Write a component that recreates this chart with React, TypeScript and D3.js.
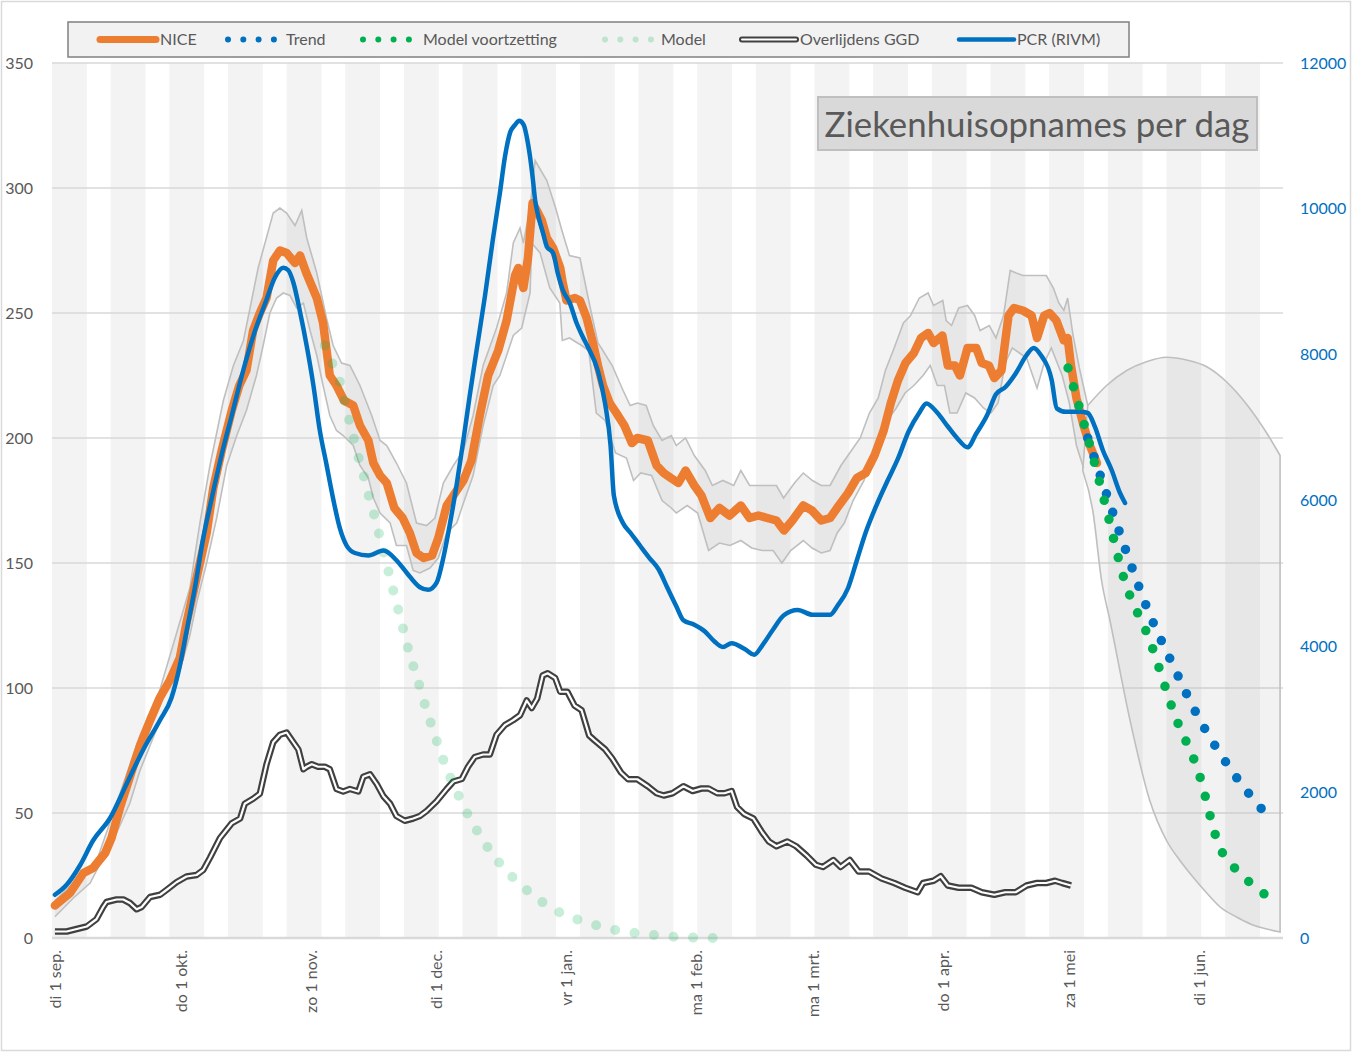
import * as d3 from "d3";

// day offsets are counted from 1 Sep 2020
const START = Date.UTC(2020, 8, 1);

const tickDates = ["2020-09-01", "2020-10-01", "2020-11-01", "2020-12-01", "2021-01-01", "2021-02-01", "2021-03-01", "2021-04-01", "2021-05-01", "2021-06-01"];
const tickLabels = ["di 1 sep.", "do 1 okt.", "zo 1 nov.", "di 1 dec.", "vr 1 jan.", "ma 1 feb.", "ma 1 mrt.", "do 1 apr.", "za 1 mei", "di 1 jun."];
const leftTicks = [0, 50, 100, 150, 200, 250, 300, 350];
const rightTicks = [0, 2000, 4000, 6000, 8000, 10000, 12000];

// NICE hospital admissions per day [day, value]
const nice = [
  [0, 13], [3.6, 18], [6.8, 26], [9.1, 28], [12, 34], [13.5, 40], [15.5, 52], [18, 65], [20.3, 77], [22.7, 87],
  [25, 96], [27.4, 103], [29.8, 112], [31.4, 126], [33.8, 144], [36.2, 162], [37.8, 180], [39.8, 195], [42.2, 211],
  [44, 221], [45.7, 227], [47.3, 243], [48.9, 250], [50.5, 256], [52.1, 271], [53.7, 275], [55.3, 274], [57.3, 270],
  [58.5, 273], [60, 266], [62.5, 256], [64, 246], [65.6, 225], [67.2, 221], [69, 215], [71.2, 213], [72.8, 205],
  [74.8, 199], [76, 190], [77.6, 185], [79.2, 182], [81, 172], [83, 168], [84.7, 162], [86.3, 154], [88, 152],
  [90, 153], [91.5, 160], [93.5, 173], [95.5, 178], [97.5, 183], [99.4, 191], [101.4, 209], [103.4, 225], [105.8, 235],
  [107.8, 247], [109.8, 265], [110.6, 268], [111.8, 260], [112.9, 272], [114, 294], [115, 291], [116.2, 287],
  [117.4, 280], [118.9, 276], [120.6, 268], [121.2, 262], [122.1, 255], [124.1, 256], [125.3, 255], [126.9, 248],
  [128.4, 238], [129.6, 229], [130.8, 221], [132.4, 214], [134, 210], [135.9, 205], [137.7, 198], [139, 200],
  [141.5, 199], [143.6, 189], [145.3, 186], [147, 184], [148.8, 182], [150.5, 187], [152.6, 181], [154.3, 177],
  [156.4, 168], [158.6, 172], [161, 169], [163.7, 173], [165.8, 168], [167.9, 169], [170, 168], [172.2, 167],
  [174, 163], [176, 167], [178.6, 173], [180.7, 171], [182.9, 167], [185, 168], [187.1, 173], [189.3, 178],
  [191.4, 184], [193.5, 186], [195.6, 193], [197.8, 203], [199.5, 214], [201.2, 223], [203, 230], [205, 234],
  [206.7, 240], [208.4, 242], [209.7, 238], [211.8, 241], [213.1, 229], [214.8, 229], [216, 225], [217.8, 236],
  [219.9, 236], [221.2, 230], [222.9, 229], [224.2, 224], [225.9, 227], [227.6, 249], [228.9, 252], [231, 251],
  [233.1, 249], [234.4, 240], [236.1, 249], [237.4, 250], [239, 247], [240.8, 239], [241.7, 240], [242.5, 229],
  [243.8, 216], [245.5, 205], [247, 197], [248.7, 190],
];

// NICE uncertainty band
const niceUpper = [
  [0, 15], [10, 31], [20.3, 81], [25, 99], [32.2, 140], [34.6, 166], [37, 189], [40.2, 215], [42.6, 229], [45, 239],
  [48.5, 268], [52.1, 290], [53.7, 292], [55.3, 290], [57.3, 285], [58.9, 291], [60.1, 280], [62.5, 266], [64.8, 248],
  [66.4, 237], [68.4, 230], [70.4, 229], [72.8, 221], [75.6, 209], [77.6, 199], [79.2, 197], [81.5, 190], [83.9, 182],
  [86.3, 166], [88.7, 165], [90.7, 168], [92.7, 182], [95.1, 189], [97.5, 195], [99.8, 209], [102.2, 229],
  [105.4, 244], [107.8, 258], [109.4, 278], [111, 284], [111.8, 278], [113.4, 292], [114.6, 311], [117.4, 303],
  [119.5, 292], [121, 283], [122.8, 273], [125.3, 272], [127.9, 251], [129.6, 238], [130.4, 236], [133, 229],
  [135.6, 219], [137.3, 213], [139, 214], [141.1, 213], [142.8, 205], [144.9, 199], [147.1, 201], [148.3, 197],
  [150.5, 200], [152.6, 193], [155.2, 187], [156.9, 181], [159.4, 183], [162, 181], [163.7, 187], [165.8, 181],
  [168, 181], [170.1, 181], [172.2, 181], [173.9, 176], [176.5, 182], [178.6, 186], [180.8, 183], [182.9, 181],
  [185, 181], [187.6, 189], [190.1, 195], [192.2, 200], [194.4, 210], [196.5, 216], [198.2, 227], [200.3, 236],
  [202.5, 246], [204.2, 249], [206.3, 256], [208.4, 258], [209.7, 253], [211.9, 255], [212.7, 247], [214, 245],
  [215.7, 252], [217.8, 253], [219.5, 249], [220.8, 243], [223, 245], [224.6, 240], [226.4, 249], [228, 267],
  [229.4, 266], [231, 265], [233.2, 265], [234.9, 265], [236.6, 265], [238.3, 260], [239.6, 254], [240.8, 251],
  [241.7, 256], [243, 241], [244.5, 228], [246.5, 213],
];
const niceLower = [
  [0, 8.5], [4.4, 16], [8.4, 22], [11.5, 32], [14.7, 42], [17.9, 54], [20.3, 67], [22.7, 77], [25.1, 87], [27.4, 95],
  [29.8, 107], [32.2, 121], [33.8, 134], [36.2, 150], [38.6, 168], [41, 189], [43.4, 201], [45.7, 211], [48.1, 225],
  [49.7, 237], [51.3, 250], [52.9, 256], [54.5, 258], [56.1, 257], [57.7, 252], [59.3, 254], [60.9, 243], [62.5, 233],
  [64, 221], [65.6, 209], [67.2, 203], [68.8, 201], [71.2, 197], [72.8, 189], [74.8, 184], [76, 176], [77.6, 170],
  [80, 166], [81.5, 157], [83.9, 157], [85.5, 147], [87.1, 146], [89.5, 148], [91.5, 152], [93.5, 162], [95.9, 166],
  [97.5, 174], [99.8, 185], [102.2, 205], [104.6, 221], [106.2, 225], [107.8, 233], [109.4, 241], [111.4, 244],
  [113.4, 258], [113.8, 278], [115.8, 274], [118.1, 260], [120.5, 254], [121.1, 239], [122.8, 240], [125.7, 237],
  [127.4, 235], [129.2, 210], [131.3, 207], [133.8, 194], [136.4, 192], [138.1, 183], [139.8, 186], [142.4, 185],
  [144.9, 175], [147.1, 172], [148.3, 170], [150.9, 173], [153.4, 170], [156, 155], [158.6, 158], [161.1, 157],
  [163.7, 159], [166.3, 156], [168.8, 155], [171.4, 155], [173.5, 150], [175.6, 155], [178.6, 159], [180.7, 156],
  [182.9, 154], [185, 155], [186.7, 162], [188.4, 166], [190.5, 175], [193.1, 183], [195.2, 192], [197.4, 199],
  [199.1, 208], [200.8, 212], [202.9, 218], [205, 221], [207.2, 225], [208.9, 229], [210.6, 221], [212.3, 221],
  [213.6, 210], [215.3, 210], [217.4, 218], [219.5, 216], [221.6, 212], [223.4, 210], [225.1, 214], [226.8, 230],
  [228.5, 236], [230.2, 234], [231.9, 232], [234.4, 220], [236.1, 230], [237.8, 236], [240.4, 225], [242.1, 214],
  [243.8, 197], [245.5, 188],
];

// projected band after May
const projUpper = [
  [246.5, 213], [251, 221], [255.8, 227], [260.5, 230.5], [265.3, 232.3], [270.1, 231.2], [274.9, 228.5],
  [279.6, 222.5], [284.4, 213.5], [289.2, 202], [292.4, 193],
];
const projLower = [
  [245.3, 187], [247.7, 171], [249.8, 143], [251.8, 127], [256.6, 87], [261.3, 55], [265.3, 39], [268.5, 31],
  [271.6, 24.4], [274.9, 18], [278.1, 12.4], [282, 8.4], [285.9, 5.2], [289.2, 3.6], [292.4, 2.4],
];

// trend and model lines
const trend = [[246.5, 200], [251.1, 177], [255.8, 154], [260.9, 131], [266.6, 110], [273, 88], [280.4, 68], [289.3, 49]];
const modelNext = [[241.8, 228], [245.8, 204.5], [250.6, 174], [255.1, 144], [261.3, 119], [267.3, 89], [273, 66], [277.6, 38], [283.5, 25], [290.9, 15]];
const model = [
  [64.4, 237], [66.4, 229], [68, 222.5], [69.2, 214], [70.4, 206], [71.6, 198], [72.8, 190], [74, 183], [75.2, 175],
  [76.4, 168], [77.6, 160], [78.8, 152], [80, 144], [81.2, 136], [82.3, 129], [83.5, 121], [84.7, 113], [86.1, 106],
  [87.5, 98], [88.9, 90], [90.3, 83], [91.9, 75], [93.5, 67.6], [95.5, 60], [97.5, 52.8], [99.7, 45.9], [102.2, 39],
  [104.9, 32.5], [107.9, 26.6], [111.4, 20.9], [115, 16], [119.2, 11.3], [123.6, 8.1], [128, 5.7], [132.8, 3.5],
  [137.5, 2.2], [142.2, 1.3], [146.9, 0.6], [151.7, 0.2], [156.4, 0], [161, 0],
];

// GGD deaths per day
const deaths = [
  [0, 2.6], [2.8, 2.6], [5.2, 3.6], [7.6, 4.6], [9.9, 7.5], [11.5, 12.4], [12.3, 14.4], [14.7, 15.4], [16.3, 15.4],
  [17.9, 14], [19.5, 11.5], [20.7, 12.4], [22.7, 16.4], [25.1, 17.3], [26.7, 19.3], [29, 22.3], [31.4, 24.6],
  [33.8, 25.2], [35.4, 27.2], [37, 32.1], [39.4, 40], [42.2, 45.9], [44.2, 47.8], [45.3, 53.7], [47.3, 55.7],
  [48.9, 57.7], [50.5, 69.5], [52.1, 78.3], [53.7, 81.3], [55.3, 82.2], [56.9, 78.3], [58.1, 75.4], [59.3, 67.5],
  [60.1, 68.5], [61.3, 69.5], [62.8, 68.5], [64.4, 68.5], [65.6, 67.5], [67.2, 59.6], [68.8, 58.6], [70.4, 59.6],
  [72.4, 58.6], [73.6, 64.5], [75.2, 65.5], [76.8, 61.6], [78.4, 56.7], [80, 53.7], [81.5, 48.8], [83.5, 46.9],
  [85.5, 47.8], [87.1, 48.8], [88.7, 50.8], [91.1, 54.7], [93.5, 59.6], [95.1, 62.6], [97.1, 63.6], [98.6, 68.5],
  [100.2, 72.4], [102.2, 73.4], [103.8, 73.4], [105.4, 81.3], [107.4, 85.2], [109.4, 87.2], [111, 89.1], [112.6, 95],
  [113.8, 92], [115.1, 95.8], [116.4, 105], [117.6, 105.9], [119.4, 104], [120.6, 98.5], [122.3, 98.5], [124, 93],
  [125.7, 91.1], [127.5, 81], [128.7, 79.2], [131.3, 75.5], [133, 71.8], [135.1, 66.2], [136.8, 63.5], [139, 63.5],
  [141.5, 60.7], [143.6, 57.9], [145.3, 57], [147.4, 57.9], [150, 60.7], [152.2, 58.8], [154.3, 59.8], [156, 59.8],
  [158.1, 57.9], [159.8, 57.9], [161.5, 58.8], [162.8, 52.4], [164.5, 49.6], [166.7, 47.8], [168.8, 42.2],
  [170.4, 38.6], [172.2, 36.7], [174.8, 38.6], [176.9, 36.7], [179.4, 33], [181.6, 29.3], [183.3, 28.4],
  [185.8, 31.2], [187.5, 28.4], [189.7, 31.2], [191.8, 26.6], [194.3, 26.6], [197.3, 23.8], [200.3, 22],
  [202.9, 20.1], [205.9, 18.3], [207.2, 22], [209.7, 22.9], [211.4, 24.7], [213.1, 21], [215.7, 20.1], [218.7, 20.1],
  [221.2, 18.3], [224.2, 17.3], [226.8, 18.3], [229.3, 18.3], [231.9, 21], [234.4, 22], [236.6, 22], [238.7, 22.9],
  [240.4, 22], [242.5, 21],
];

// PCR positives per day (right axis)
const pcr = [
  [0, 593], [2.8, 730], [6, 998], [9.1, 1337], [13.1, 1639], [17.1, 2112], [21.1, 2585], [25.1, 2990], [27.8, 3292],
  [29.8, 3730], [31.4, 4203], [33.4, 4800], [35.4, 5486], [37.4, 6024], [39.8, 6631], [42.2, 7166], [44.9, 7776],
  [47.7, 8318], [50.5, 8753], [52.5, 9058], [54.5, 9192], [55.7, 9158], [56.9, 8990], [58.5, 8585], [60.1, 8116],
  [61.7, 7574], [63.2, 6967], [64.8, 6497], [66.4, 6024], [68, 5620], [69.6, 5383], [71.6, 5280], [74.8, 5246],
  [78.4, 5314], [81.5, 5181], [83.9, 5013], [87.1, 4810], [89.1, 4776], [91.1, 4875], [92.7, 5215], [94.3, 5688],
  [95.9, 6226], [97.5, 6833], [99, 7440], [100.6, 8047], [102.6, 8791], [104.5, 9572], [106.2, 10217], [107.4, 10711],
  [108.6, 11040], [109.8, 11150], [110.8, 11208], [111.9, 11150], [112.6, 10989], [113.4, 10711], [114, 10440],
  [114.6, 10121], [115.3, 9915], [116.5, 9668], [117.4, 9481], [118.9, 9394], [120, 9120], [121.2, 8887],
  [122.9, 8708], [124.5, 8434], [126, 8242], [127.2, 8105], [129.6, 7776], [131.3, 7331], [132.6, 6761],
  [133.4, 6068], [135.6, 5688], [137.3, 5561], [139.8, 5369], [141.9, 5211], [144.1, 5054], [146.2, 4800],
  [148.3, 4550], [150, 4358], [152.6, 4296], [155.2, 4200], [157.3, 4073], [159.4, 3991], [161.5, 4042],
  [164.5, 3967], [166.9, 3885], [168.8, 4011], [171.4, 4231], [173.9, 4423], [177.3, 4498], [180.8, 4433],
  [185, 4433], [186.7, 4550], [189.3, 4800], [191.4, 5181], [193.5, 5561], [196.1, 5938], [198.6, 6257],
  [201.2, 6573], [203.8, 6953], [206.3, 7203], [208, 7331], [210.6, 7203], [213.1, 7015], [215.3, 6857],
  [217.8, 6730], [219.9, 6919], [222.5, 7173], [224.6, 7457], [226.8, 7553], [229.3, 7742], [231.9, 7995],
  [233.6, 8092], [235.3, 7995], [237.9, 7649], [239.1, 7264], [241.3, 7217], [244.7, 7217], [246.5, 7200],
  [248.2, 7012], [250.1, 6690], [252.2, 6418], [254.2, 6103], [255.4, 5966],
];

const FONT = "Lato, 'Open Sans', sans-serif";
const W = 1352;
const H = 1052;
const L = 52;
const R = 1283;
const T = 63;
const B = 938;

const x = d3.scaleLinear().domain([-0.7, 293.1]).range([L, R]);
const yL = d3.scaleLinear().domain([0, 350]).range([B, T]);
const yR = d3.scaleLinear().domain([0, 12000]).range([B, T]);

const lineL = d3.line<number[]>().x((d) => x(d[0])).y((d) => yL(d[1]));
const smoothL = d3.line<number[]>().x((d) => x(d[0])).y((d) => yL(d[1])).curve(d3.curveMonotoneX);
const lineR = d3.line<number[]>().x((d) => x(d[0])).y((d) => yR(d[1])).curve(d3.curveMonotoneX);

const bandPath = (up: number[][], lo: number[][], smooth = false) => {
  const gen = smooth ? smoothL : lineL;
  const a = gen(up) || "";
  const b = (gen([...lo].reverse()) || "").replace(/^M/, "L");
  return a + b + "Z";
};

const dayOf = (s: string) => (Date.parse(s + "T00:00:00Z") - START) / 864e5;

export default function App() {
  const stripes = d3.range(0, 21).map((k) => [Math.max(L, x(14 * k - 0.7)), Math.min(R, x(14 * k + 7.6))]);
  const dot = { fill: "none", strokeLinecap: "round" as const, strokeDasharray: "0 19.6" };

  return (
    <svg width={W} height={H} style={{ position: "absolute", left: 0, top: 0, background: "#fff" }} fontFamily={FONT}>
      <rect x={1.5} y={1.5} width={W - 3} height={H - 3} fill="#fff" stroke="#d9d9d9" strokeWidth={1.5} />

      {stripes.map(([a, b], i) => (
        <rect key={i} x={a} y={T} width={b - a} height={B - T} fill="#f3f3f3" />
      ))}

      {leftTicks.map((t) => (
        <line key={t} x1={L} x2={R} y1={yL(t)} y2={yL(t)} stroke="#d9d9d9" strokeWidth={t === 0 ? 2.5 : 1.5} />
      ))}

      {/* uncertainty bands */}
      <path d={bandPath(niceUpper, niceLower)} fill="#7f7f7f" fillOpacity={0.1} stroke="none" />
      <path d={lineL(niceUpper) || ""} fill="none" stroke="#bfbfbf" strokeWidth={1.6} />
      <path d={lineL(niceLower) || ""} fill="none" stroke="#bfbfbf" strokeWidth={1.6} />
      <path d={bandPath(projUpper, projLower, true)} fill="#7f7f7f" fillOpacity={0.1} stroke="#bfbfbf" strokeWidth={1.6} />

      {/* deaths, double line */}
      <path d={lineL(deaths) || ""} fill="none" stroke="#404040" strokeWidth={6.5} strokeLinejoin="round" />
      <path d={lineL(deaths) || ""} fill="none" stroke="#fff" strokeWidth={2.2} strokeLinejoin="round" />

      <path d={lineL(nice) || ""} fill="none" stroke="#ed7d31" strokeWidth={8.5} strokeLinejoin="round" strokeLinecap="round" />

      <path d={smoothL(model) || ""} {...dot} stroke="#00b050" strokeOpacity={0.22} strokeWidth={10} />

      <path d={lineR(pcr) || ""} fill="none" stroke="#0070c0" strokeWidth={4.5} strokeLinejoin="round" strokeLinecap="round" />

      <path d={smoothL(trend) || ""} {...dot} stroke="#0070c0" strokeWidth={9.5} />
      <path d={smoothL(modelNext) || ""} {...dot} stroke="#00b050" strokeWidth={9.5} />

      {/* axes */}
      {leftTicks.map((t) => (
        <text key={t} x={33} y={yL(t)} dy="0.35em" textAnchor="end" fontSize={16} fill="#595959">{t}</text>
      ))}
      {rightTicks.map((t) => (
        <text key={t} x={1300} y={yR(t)} dy="0.35em" textAnchor="start" fontSize={16} fill="#0070c0">{t}</text>
      ))}
      {tickDates.map((s, i) => (
        <text key={s} transform={`translate(${x(dayOf(s)) + 6},950) rotate(-90)`} textAnchor="end" fontSize={16} fill="#595959">
          {tickLabels[i]}
        </text>
      ))}

      {/* legend */}
      <rect x={68} y={22} width={1061} height={35} fill="#f2f2f2" stroke="#808080" strokeWidth={1.5} />
      <g fontSize={16} fill="#595959">
        <line x1={100} x2={156} y1={39.5} y2={39.5} stroke="#ed7d31" strokeWidth={7} strokeLinecap="round" />
        <text x={160} y={39.5} dy="0.35em">NICE</text>
        <line x1={228} x2={274} y1={39.5} y2={39.5} stroke="#0070c0" strokeWidth={6} {...dot} strokeDasharray="0 15.3" />
        <text x={286} y={39.5} dy="0.35em">Trend</text>
        <line x1={363} x2={409} y1={39.5} y2={39.5} stroke="#00b050" strokeWidth={6} {...dot} strokeDasharray="0 15.3" />
        <text x={423} y={39.5} dy="0.35em">Model voortzetting</text>
        <line x1={605} x2={651} y1={39.5} y2={39.5} stroke="#00b050" strokeOpacity={0.22} strokeWidth={6} {...dot} strokeDasharray="0 15.3" />
        <text x={661} y={39.5} dy="0.35em">Model</text>
        <line x1={742} x2={796} y1={39.5} y2={39.5} stroke="#404040" strokeWidth={6} strokeLinecap="round" />
        <line x1={742} x2={796} y1={39.5} y2={39.5} stroke="#fff" strokeWidth={2} strokeLinecap="round" />
        <text x={800} y={39.5} dy="0.35em">Overlijdens GGD</text>
        <line x1={959} x2={1014} y1={39.5} y2={39.5} stroke="#0070c0" strokeWidth={4.5} strokeLinecap="round" />
        <text x={1017} y={39.5} dy="0.35em">PCR (RIVM)</text>
      </g>

      {/* title box */}
      <rect x={818} y={97} width={439} height={53} fill="#d9d9d9" stroke="#bfbfbf" strokeWidth={2} />
      <text x={1037} y={137} textAnchor="middle" fontSize={34.8} fill="#595959">Ziekenhuisopnames per dag</text>
    </svg>
  );
}
